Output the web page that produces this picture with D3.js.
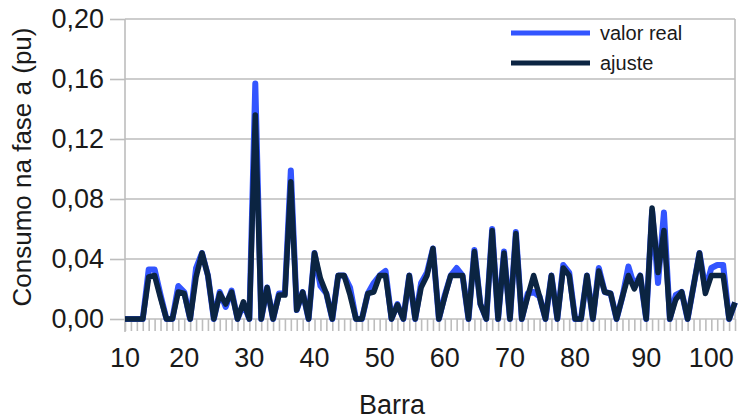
<!DOCTYPE html>
<html>
<head>
<meta charset="utf-8">
<script src="https://cdn.jsdelivr.net/npm/d3@7"></script>
<style>
  body { margin: 0; background: #fff; }
  text { font-family: "Liberation Sans", Arial, sans-serif; }
</style>
</head>
<body>
<div class="view"></div>
<script>
var valorReal = [0, 0, 0, 0, 0.033, 0.033, 0.016, 0, 0, 0.022,
  0.018, 0, 0.034, 0.044, 0.029, 0, 0.018, 0.008, 0.019, 0,
  0.010, 0, 0.157, 0, 0.021, 0, 0.017, 0.017, 0.099, 0.006,
  0.018, 0, 0.044, 0.022, 0.017, 0, 0.029, 0.029, 0.021, 0,
  0, 0.017, 0.024, 0.029, 0.032, 0, 0.010, 0, 0.029, 0,
  0.024, 0.031, 0.047, 0, 0.016, 0.029, 0.034, 0.029, 0, 0.046,
  0.010, 0, 0.060, 0, 0.045, 0, 0.058, 0, 0.017, 0.018,
  0.015, 0, 0.029, 0, 0.036, 0.031, 0, 0, 0.029, 0,
  0.034, 0.018, 0.017, 0, 0.015, 0.035, 0.022, 0.029, 0, 0.072,
  0.024, 0.071, 0, 0.016, 0.018, 0, 0.022, 0.044, 0.020, 0.034,
  0.036, 0.036, 0, 0.011];

var ajuste = [0, 0, 0, 0, 0.028, 0.029, 0.014, 0, 0, 0.018,
  0.017, 0, 0.028, 0.044, 0.029, 0, 0.017, 0.010, 0.018, 0,
  0.0115, 0, 0.136, 0, 0.021, 0, 0.016, 0.016, 0.0915, 0.006,
  0.018, 0, 0.044, 0.027, 0.017, 0, 0.029, 0.029, 0.016, 0,
  0, 0.017, 0.018, 0.029, 0.029, 0, 0.0095, 0, 0.029, 0,
  0.021, 0.029, 0.047, 0, 0.015, 0.029, 0.029, 0.029, 0, 0.045,
  0.010, 0, 0.059, 0, 0.044, 0, 0.057, 0, 0.015, 0.029,
  0.015, 0, 0.029, 0, 0.034, 0.029, 0, 0, 0.029, 0,
  0.032, 0.018, 0.017, 0, 0.015, 0.029, 0.020, 0.029, 0, 0.074,
  0.031, 0.059, 0, 0.013, 0.018, 0, 0.022, 0.044, 0.017, 0.029,
  0.029, 0.029, 0, 0.011];

// category index of each labelled bar
var barraLabels = ["10", "20", "30", "40", "50", "60", "70", "80", "90", "100"];
var barraIndex = [0, 10, 21, 32, 43, 54, 65, 76, 88, 99];

var yTicks = [0, 0.04, 0.08, 0.12, 0.16, 0.20];
var seriesNames = ["valor real", "ajuste"];

var margin = { top: 19, right: 4, bottom: 100, left: 125 };
var width = 739 - margin.left - margin.right;
var height = 419 - margin.top - margin.bottom;
var grey = "#bdbdbd";
var colors = ["#3355ff", "#0b2442"];

var svg = d3.select('.view')
  .append('svg')
  .attr('width', 739)
  .attr('height', 419)
  .append('g')
  .attr('transform', 'translate(' + margin.left + ',' + margin.top + ")");

var x = d3.scaleLinear()
  .domain([0, valorReal.length - 1])
  .range([0, width]);

var y = d3.scaleLinear()
  .domain([0, 0.20])
  .range([height, 0]);

var fmt = function(d) { return d3.format(".2f")(d).replace(".", ","); };

// grid + y axis
var yAxis = svg.append("g")
  .call(d3.axisLeft(y).tickValues(yTicks).tickFormat(fmt).tickSize(15).tickPadding(6));
yAxis.select(".domain").remove();
yAxis.selectAll(".tick line").attr("stroke", grey).attr("stroke-width", 1.6);
yAxis.selectAll(".tick text").attr("font-size", 27).attr("fill", "#1a1a1a");

svg.append("g")
  .selectAll("line")
  .data(yTicks)
  .enter()
  .append("line")
  .attr("x1", 0)
  .attr("x2", width)
  .attr("y1", function(d) { return y(d); })
  .attr("y2", function(d) { return y(d); })
  .attr("stroke", grey)
  .attr("stroke-width", 1.6);

svg.append("line")
  .attr("x1", 0).attr("x2", 0)
  .attr("y1", 0).attr("y2", height + 13)
  .attr("stroke", grey).attr("stroke-width", 1.6);

svg.append("line")
  .attr("x1", width).attr("x2", width)
  .attr("y1", 0).attr("y2", height)
  .attr("stroke", grey).attr("stroke-width", 1.6);

// x axis: one tick per bar, labels on some
var xAxis = svg.append("g")
  .attr("transform", "translate(0," + height + ")")
  .call(d3.axisBottom(x).tickValues(d3.range(valorReal.length)).tickSize(12).tickFormat(""));
xAxis.select(".domain").remove();
xAxis.selectAll(".tick line").attr("stroke", grey).attr("stroke-width", 1.6);

svg.append("g")
  .selectAll("text")
  .data(barraIndex)
  .enter()
  .append("text")
  .attr("x", function(d) { return x(d); })
  .attr("y", height + 48)
  .attr("text-anchor", "middle")
  .attr("font-size", 27)
  .attr("fill", "#1a1a1a")
  .text(function(d, i) { return barraLabels[i]; });

// lines
var line = d3.line()
  .x(function(d, i) { return x(i); })
  .y(function(d) { return y(d); });

[valorReal, ajuste].forEach(function(s, k) {
  svg.append("path")
    .datum(s)
    .attr("fill", "none")
    .attr("stroke", colors[k])
    .attr("stroke-width", k == 0 ? 6 : 5.5)
    .attr("stroke-linejoin", "round")
    .attr("d", line);
});

// axis titles
svg.append("text")
  .attr("x", 267)
  .attr("y", height + 95)
  .attr("text-anchor", "middle")
  .attr("font-size", 27)
  .attr("fill", "#1a1a1a")
  .text("Barra");

svg.append("text")
  .attr("transform", "rotate(-90)")
  .attr("x", -height / 2 + 2)
  .attr("y", -94)
  .attr("text-anchor", "middle")
  .attr("font-size", 26)
  .attr("fill", "#1a1a1a")
  .text("Consumo na fase a (pu)");

// legend
var legend = svg.append("g")
  .attr("transform", "translate(386,14)");

seriesNames.forEach(function(name, i) {
  legend.append("line")
    .attr("x1", 0).attr("x2", 79)
    .attr("y1", i * 30).attr("y2", i * 30)
    .attr("stroke", colors[i])
    .attr("stroke-width", 5);
  legend.append("text")
    .attr("x", 89)
    .attr("y", i * 30 + 7)
    .attr("font-size", 20)
    .attr("fill", "#1a1a1a")
    .text(name);
});
</script>
</body>
</html>
